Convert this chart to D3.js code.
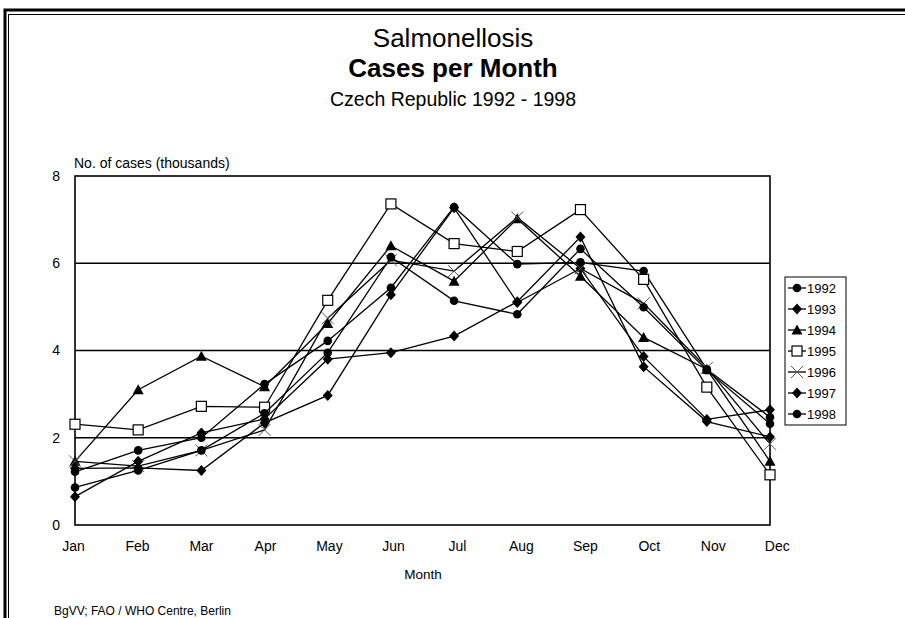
<!DOCTYPE html>
<html lang="en">
<head>
<meta charset="utf-8">
<title>Salmonellosis</title>
<script src="https://d3js.org/d3.v7.min.js"></script>
<style>
body { margin: 0; background: #fff; }
svg text { font-family: "Liberation Sans", Arial, sans-serif; fill: #000; }
</style>
</head>
<body>
<script>
// data (thousands of cases)
var months = ["Jan", "Feb", "Mar", "Apr", "May", "Jun", "Jul", "Aug", "Sep", "Oct", "Nov", "Dec"];
var years = ["1992", "1993", "1994", "1995", "1996", "1997", "1998"];
var yTicks = [0, 2, 4, 6, 8];

var cases1992 = [1.22, 1.71, 2.00, 3.23, 4.22, 5.44, 7.29, 5.98, 6.02, 5.82, 3.57, 2.47];
var cases1993 = [1.30, 1.31, 1.25, 2.34, 2.97, 5.28, 7.27, 5.10, 5.88, 3.86, 2.42, 2.64];
var cases1994 = [1.46, 3.10, 3.87, 3.17, 4.62, 6.40, 5.59, 7.02, 5.70, 4.30, 3.57, 1.46];
var cases1995 = [2.31, 2.18, 2.72, 2.70, 5.15, 7.36, 6.45, 6.27, 7.23, 5.63, 3.16, 1.15];
var cases1996 = [1.46, 1.35, 1.71, 2.18, 4.74, 6.07, 5.82, 7.05, 5.88, 5.08, 3.60, 1.86];
var cases1997 = [0.65, 1.46, 2.11, 2.43, 3.80, 3.95, 4.33, 5.12, 6.60, 3.63, 2.37, 2.02];
var cases1998 = [0.86, 1.25, 1.71, 2.56, 3.95, 6.14, 5.14, 4.83, 6.33, 4.99, 3.55, 2.32];

var markers = ["circle", "diamond", "triangle", "square", "cross", "diamond", "circle"];

var allCases = [cases1992, cases1993, cases1994, cases1995, cases1996, cases1997, cases1998];
var series = years.map(function(yr, i) {
  return { year: yr, values: allCases[i], marker: markers[i] };
});

var W = 905, H = 618;
var svg = d3.select("body").append("svg")
  .attr("width", W).attr("height", H);

// double frame round the page
svg.append("rect").attr("x", 5).attr("y", 10).attr("width", 1000).attr("height", 700)
  .attr("fill", "none").attr("stroke", "#000").attr("stroke-width", 3);
svg.append("rect").attr("x", 8.5).attr("y", 14.5).attr("width", 1000).attr("height", 700)
  .attr("fill", "none").attr("stroke", "#000").attr("stroke-width", 1);

// titles
svg.append("text").attr("x", 453).attr("y", 47).attr("text-anchor", "middle")
  .style("font-size", "26px").text("Salmonellosis");
svg.append("text").attr("x", 453).attr("y", 77).attr("text-anchor", "middle")
  .style("font-size", "26px").style("font-weight", "bold").text("Cases per Month");
svg.append("text").attr("x", 453).attr("y", 106).attr("text-anchor", "middle")
  .style("font-size", "19.5px").text("Czech Republic 1992 - 1998");

var pLeft = 75, pRight = 770, pTop = 176, pBottom = 525;

var x = d3.scalePoint().domain(months).range([pLeft, pRight]);
var y = d3.scaleLinear().domain([0, 8]).range([pBottom, pTop]);

// gridlines
svg.append("g").selectAll("line").data(yTicks.filter(function(d) { return d > 0 && d < 8; }))
  .enter().append("line")
  .attr("x1", pLeft).attr("x2", pRight)
  .attr("y1", function(d) { return y(d); }).attr("y2", function(d) { return y(d); })
  .attr("stroke", "#000").attr("stroke-width", 1.5);

// plot frame
svg.append("rect").attr("x", pLeft).attr("y", pTop)
  .attr("width", pRight - pLeft).attr("height", pBottom - pTop)
  .attr("fill", "none").attr("stroke", "#000").attr("stroke-width", 1.6);

// axes
var yAxis = svg.append("g").attr("transform", "translate(" + pLeft + ",0)")
  .call(d3.axisLeft(y).tickValues(yTicks).tickSize(0).tickPadding(15));
yAxis.select(".domain").remove();
yAxis.selectAll("text").style("font-size", "14px");

var xAxis = svg.append("g").attr("transform", "translate(0," + pBottom + ")")
  .call(d3.axisBottom(x).tickSize(0).tickPadding(16));
xAxis.select(".domain").remove();
xAxis.selectAll("text").style("font-size", "14px")
  .attr("dx", function(d, i) { return (-2 + i * 0.8) + "px"; });

svg.append("text").attr("x", 74).attr("y", 168)
  .style("font-size", "14px").text("No. of cases (thousands)");
svg.append("text").attr("x", 423).attr("y", 579).attr("text-anchor", "middle")
  .style("font-size", "13.5px").text("Month");
svg.append("text").attr("x", 54).attr("y", 615)
  .style("font-size", "12px").text("BgVV; FAO / WHO Centre, Berlin");

// marker drawing
function drawMarker(g, type) {
  if (type === "circle") {
    g.append("circle").attr("r", 4.3).attr("fill", "#000");
  } else if (type === "diamond") {
    g.append("path").attr("d", "M0,-5.5L5,0L0,5.5L-5,0Z").attr("fill", "#000");
  } else if (type === "triangle") {
    g.append("path").attr("d", "M0,-5.5L5.5,4.5L-5.5,4.5Z").attr("fill", "#000");
  } else if (type === "square") {
    g.append("rect").attr("x", -5).attr("y", -5).attr("width", 10).attr("height", 10)
      .attr("fill", "#fff").attr("stroke", "#000").attr("stroke-width", 1.2);
  } else if (type === "cross") {
    g.append("path").attr("d", "M-6,-6L6,6M-6,6L6,-6")
      .attr("stroke", "#555").attr("stroke-width", 1).attr("fill", "none");
  }
}

var line = d3.line()
  .x(function(d, i) { return x(months[i]); })
  .y(function(d) { return y(d); });

series.forEach(function(s) {
  var g = svg.append("g").attr("class", "series");
  g.append("path").attr("d", line(s.values))
    .attr("fill", "none").attr("stroke", "#000").attr("stroke-width", 1.3);
  s.values.forEach(function(v, i) {
    var m = g.append("g").attr("transform", "translate(" + x(months[i]) + "," + y(v) + ")");
    drawMarker(m, s.marker);
  });
});

// legend
var lg = svg.append("g").attr("transform", "translate(785,277)");
lg.append("rect").attr("x", 0).attr("y", 0).attr("width", 61).attr("height", 148)
  .attr("fill", "#fff").attr("stroke", "#000").attr("stroke-width", 1);
series.forEach(function(s, i) {
  var row = lg.append("g").attr("transform", "translate(0," + (11 + i * 21) + ")");
  row.append("line").attr("x1", 3).attr("x2", 21).attr("y1", 0).attr("y2", 0)
    .attr("stroke", "#000").attr("stroke-width", 1.3);
  drawMarker(row.append("g").attr("transform", "translate(12,0)"), s.marker);
  row.append("text").attr("x", 22).attr("y", 5).style("font-size", "13px").text(s.year);
});
</script>
</body>
</html>
